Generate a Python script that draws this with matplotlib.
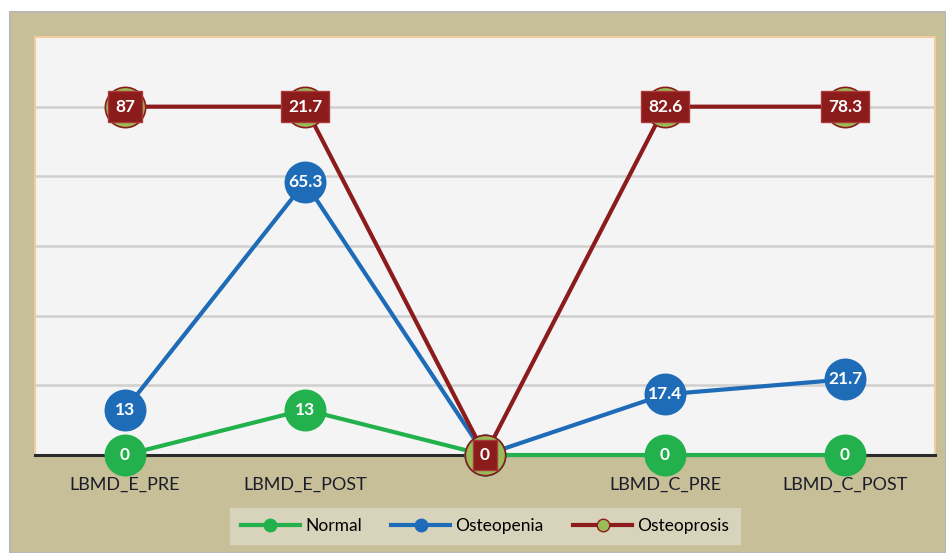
import numpy as np
import matplotlib
matplotlib.use("Agg")
import matplotlib.pyplot as plt
from matplotlib.patches import Rectangle
from matplotlib.lines import Line2D

plt.rcParams['font.family'] = ['Lato', 'DejaVu Sans']

categories = ["LBMD_E_PRE", "LBMD_E_POST", "", "LBMD_C_PRE", "LBMD_C_POST"]
series_names = ["Normal", "Osteopenia", "Osteoprosis"]
normal = [0, 13, 0, 0, 0]
osteopenia = [13, 65.3, 0, 17.4, 21.7]
osteoprosis = [87, 21.7, 0, 82.6, 78.3]
label_text = {
    "Normal": ["0", "13", "0", "0", "0"],
    "Osteopenia": ["13", "65.3", "0", "17.4", "21.7"],
    "Osteoprosis": ["87", "21.7", "0", "82.6", "78.3"],
}

line_colors = ["#22b14c", "#1e6cb8", "#8c1c1c"]
marker_face = ["#22b14c", "#1e6cb8", "#9bbb59"]

# stacked line chart
stacked = np.cumsum(np.array([normal, osteopenia, osteoprosis]), axis=0)

fig = plt.figure(figsize=(9.46, 5.53), dpi=100)
fig.patch.set_facecolor("white")
panel = Rectangle((10 / 946, 0), 1 - 10 / 946, (553 - 12) / 553, transform=fig.transFigure,
                  facecolor="#c6bf98", edgecolor="#b8b8b0", linewidth=1.5, zorder=-10)
fig.patches.append(panel)

ax = fig.add_axes([35 / 946, 98 / 553, 900 / 946, 418 / 553])
ax.set_facecolor("#f4f4f4")
x = np.arange(len(categories))
ax.set_xlim(-0.5, len(categories) - 0.5)
ax.set_ylim(0, 120)
ax.set_yticks([20, 40, 60, 80, 100])
ax.yaxis.grid(True, color="#cfcfcf", linewidth=1.8)
ax.set_axisbelow(True)
ax.tick_params(axis="y", left=False, labelleft=False)
ax.tick_params(axis="x", length=0, pad=16, labelsize=13, labelcolor="#1c1c2a")
ax.set_xticks(x)
ax.set_xticklabels(categories)
for s in ["left", "right", "top"]:
    ax.spines[s].set_color("#f2cc9c")
    ax.spines[s].set_linewidth(1.5)
ax.spines["bottom"].set_color("#2a2a2a")
ax.spines["bottom"].set_linewidth(2.2)

for i, name in enumerate(series_names):
    ys = stacked[i]
    ax.plot(x, ys, color=line_colors[i], linewidth=3, zorder=3 + i, clip_on=False,
            marker="o", markersize=29, markerfacecolor=marker_face[i],
            markeredgecolor=line_colors[i], markeredgewidth=1.2,
            label=name)
    for xi, yi, t in zip(x, ys, label_text[name]):
        if name == "Osteoprosis":
            ax.text(xi, yi, t, ha="center", va="center", color="white", fontsize=12.5,
                    fontweight="bold", zorder=10,
                    bbox=dict(boxstyle="square,pad=0.42", facecolor="#8c1c1c",
                              edgecolor="#a83a3a", linewidth=1))
        else:
            ax.text(xi, yi, t, ha="center", va="center", color="white", fontsize=12.5,
                    fontweight="bold", zorder=10)

handles = [Line2D([0], [0], color=line_colors[i], linewidth=3, marker="o", markersize=9,
                  markerfacecolor=marker_face[i], markeredgecolor=line_colors[i])
           for i in range(3)]
leg = fig.legend(handles, series_names, loc="center", bbox_to_anchor=(485 / 946, 1 - 526 / 553),
                 ncol=3, frameon=True, fontsize=12.5, handlelength=3.4, columnspacing=1.7,
                 handletextpad=0.3, borderpad=0.6, fancybox=False)
leg.get_frame().set_facecolor("#d8d3bb")
leg.get_frame().set_edgecolor("#d8d3bb")
leg.get_frame().set_alpha(1)

fig.savefig("out.png", dpi=100, facecolor=fig.get_facecolor())
